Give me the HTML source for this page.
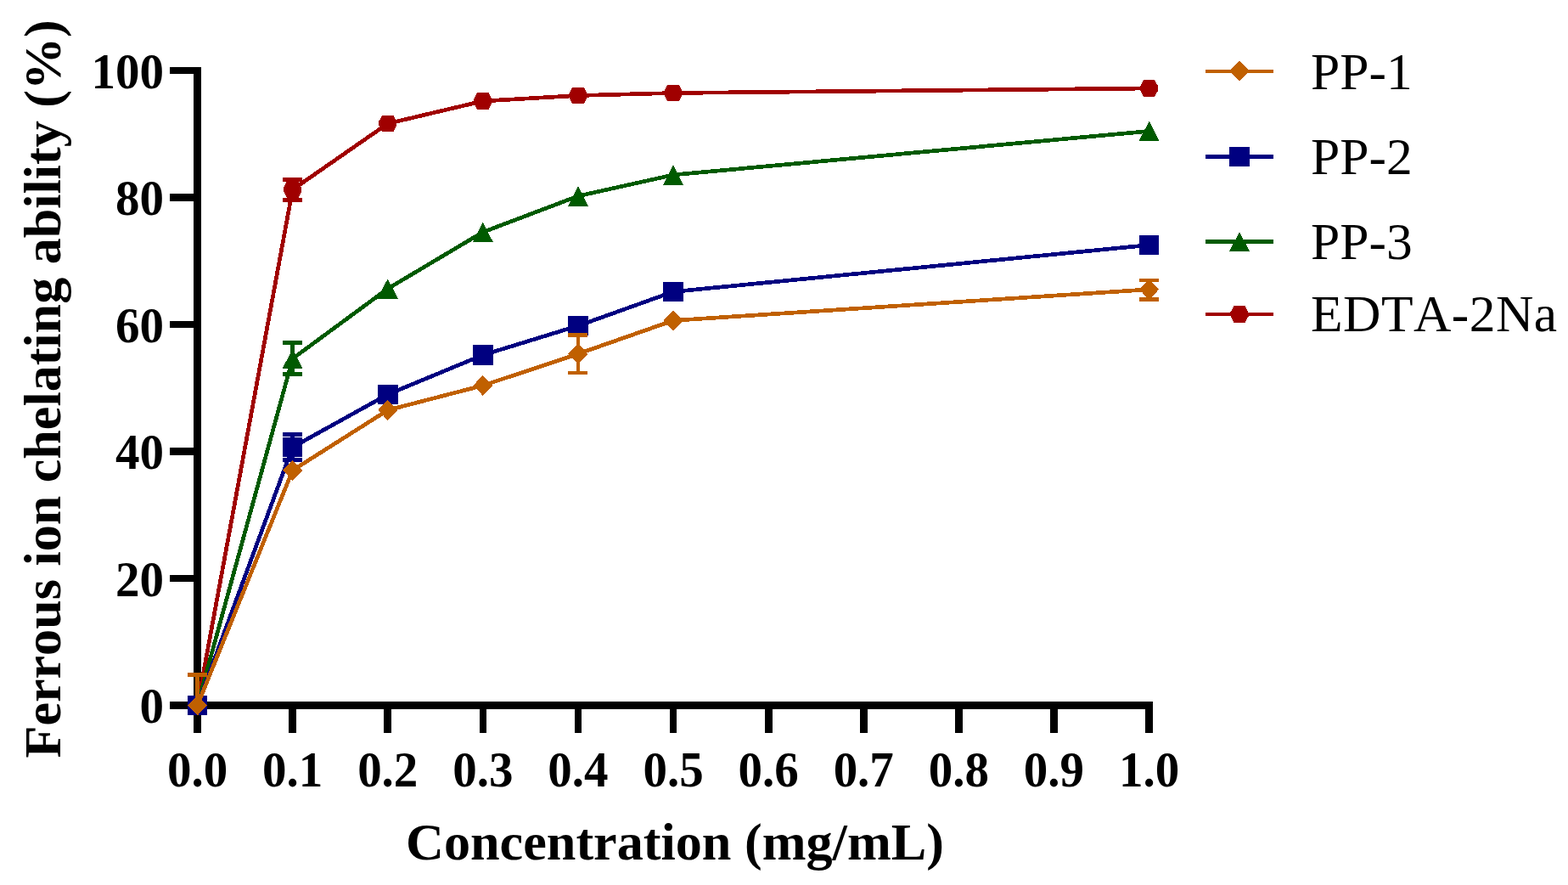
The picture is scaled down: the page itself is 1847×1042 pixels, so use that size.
<!DOCTYPE html>
<html><head><meta charset="utf-8"><title>Ferrous ion chelating ability</title><style>html,body{margin:0;padding:0;background:#fff;}svg{display:block;} text{font-kerning:none;}</style></head><body>
<svg width="1847" height="1042" viewBox="0 0 1847 1042" shape-rendering="crispEdges">
<rect width="1847" height="1042" fill="#fff"/>
<g fill="#000">
<rect x="228.20" y="79" width="8.7" height="783.80"/>
<rect x="200" y="826.20" width="1158.06" height="8.7"/>
<rect x="200" y="676.70" width="32.55" height="8.7"/>
<rect x="200" y="527.20" width="32.55" height="8.7"/>
<rect x="200" y="377.70" width="32.55" height="8.7"/>
<rect x="200" y="228.20" width="32.55" height="8.7"/>
<rect x="200" y="78.70" width="32.55" height="8.7"/>
<rect x="228.20" y="830.55" width="8.7" height="32.25"/>
<rect x="340.30" y="830.55" width="8.7" height="32.25"/>
<rect x="452.40" y="830.55" width="8.7" height="32.25"/>
<rect x="564.50" y="830.55" width="8.7" height="32.25"/>
<rect x="676.60" y="830.55" width="8.7" height="32.25"/>
<rect x="788.70" y="830.55" width="8.7" height="32.25"/>
<rect x="900.80" y="830.55" width="8.7" height="32.25"/>
<rect x="1012.90" y="830.55" width="8.7" height="32.25"/>
<rect x="1125.00" y="830.55" width="8.7" height="32.25"/>
<rect x="1237.10" y="830.55" width="8.7" height="32.25"/>
<rect x="1349.20" y="830.55" width="8.7" height="32.25"/>
</g>
<polyline points="232.55,830.50 344.65,223.30 456.75,145.50 568.85,119.00 680.95,112.50 793.05,109.50 1353.55,104.00" fill="none" stroke="#A00000" stroke-width="4.7" stroke-linejoin="round"/>
<rect x="342.40" y="211.50" width="4.5" height="24.00" fill="#A00000"/>
<rect x="333.15" y="209.05" width="23" height="4.9" fill="#A00000"/>
<rect x="333.15" y="233.05" width="23" height="4.9" fill="#A00000"/>
<polygon points="222.05,828.00 225.85,820.75 239.25,820.75 243.05,828.00 243.05,833.00 239.25,840.25 225.85,840.25 222.05,833.00" fill="#A00000"/>
<polygon points="334.15,220.80 337.95,213.55 351.35,213.55 355.15,220.80 355.15,225.80 351.35,233.05 337.95,233.05 334.15,225.80" fill="#A00000"/>
<polygon points="446.25,143.00 450.05,135.75 463.45,135.75 467.25,143.00 467.25,148.00 463.45,155.25 450.05,155.25 446.25,148.00" fill="#A00000"/>
<polygon points="558.35,116.50 562.15,109.25 575.55,109.25 579.35,116.50 579.35,121.50 575.55,128.75 562.15,128.75 558.35,121.50" fill="#A00000"/>
<polygon points="670.45,110.00 674.25,102.75 687.65,102.75 691.45,110.00 691.45,115.00 687.65,122.25 674.25,122.25 670.45,115.00" fill="#A00000"/>
<polygon points="782.55,107.00 786.35,99.75 799.75,99.75 803.55,107.00 803.55,112.00 799.75,119.25 786.35,119.25 782.55,112.00" fill="#A00000"/>
<polygon points="1343.05,101.50 1346.85,94.25 1360.25,94.25 1364.05,101.50 1364.05,106.50 1360.25,113.75 1346.85,113.75 1343.05,106.50" fill="#A00000"/>
<polyline points="232.55,830.50 344.65,422.30 456.75,339.90 568.85,273.30 680.95,230.90 793.05,205.90 1353.55,154.40" fill="none" stroke="#005A00" stroke-width="4.7" stroke-linejoin="round"/>
<rect x="342.40" y="403.50" width="4.5" height="37.00" fill="#005A00"/>
<rect x="333.15" y="401.05" width="23" height="4.9" fill="#005A00"/>
<rect x="333.15" y="438.05" width="23" height="4.9" fill="#005A00"/>
<polygon points="232.55,818.70 244.55,842.30 220.55,842.30" fill="#005A00"/>
<polygon points="344.65,410.50 356.65,434.10 332.65,434.10" fill="#005A00"/>
<polygon points="456.75,328.10 468.75,351.70 444.75,351.70" fill="#005A00"/>
<polygon points="568.85,261.50 580.85,285.10 556.85,285.10" fill="#005A00"/>
<polygon points="680.95,219.10 692.95,242.70 668.95,242.70" fill="#005A00"/>
<polygon points="793.05,194.10 805.05,217.70 781.05,217.70" fill="#005A00"/>
<polygon points="1353.55,142.60 1365.55,166.20 1341.55,166.20" fill="#005A00"/>
<polyline points="232.55,830.50 344.65,526.50 456.75,464.40 568.85,418.00 680.95,383.60 793.05,343.50 1353.55,288.50" fill="none" stroke="#000080" stroke-width="4.7" stroke-linejoin="round"/>
<rect x="342.40" y="511.40" width="4.5" height="30.10" fill="#000080"/>
<rect x="333.15" y="508.95" width="23" height="4.9" fill="#000080"/>
<rect x="333.15" y="539.05" width="23" height="4.9" fill="#000080"/>
<rect x="220.80" y="818.75" width="23.50" height="23.50" fill="#000080"/>
<rect x="332.90" y="514.75" width="23.50" height="23.50" fill="#000080"/>
<rect x="445.00" y="452.65" width="23.50" height="23.50" fill="#000080"/>
<rect x="557.10" y="406.25" width="23.50" height="23.50" fill="#000080"/>
<rect x="669.20" y="371.85" width="23.50" height="23.50" fill="#000080"/>
<rect x="781.30" y="331.75" width="23.50" height="23.50" fill="#000080"/>
<rect x="1341.80" y="276.75" width="23.50" height="23.50" fill="#000080"/>
<polyline points="232.55,830.50 344.65,553.80 456.75,482.90 568.85,453.90 680.95,416.60 793.05,377.40 1353.55,340.80" fill="none" stroke="#C06000" stroke-width="4.7" stroke-linejoin="round"/>
<rect x="230.30" y="794.50" width="4.5" height="36.00" fill="#C06000"/>
<rect x="221.05" y="792.05" width="23" height="4.9" fill="#C06000"/>
<rect x="678.70" y="394.50" width="4.5" height="44.50" fill="#C06000"/>
<rect x="669.45" y="392.05" width="23" height="4.9" fill="#C06000"/>
<rect x="669.45" y="436.55" width="23" height="4.9" fill="#C06000"/>
<rect x="1351.30" y="330.00" width="4.5" height="22.50" fill="#C06000"/>
<rect x="1342.05" y="327.55" width="23" height="4.9" fill="#C06000"/>
<rect x="1342.05" y="350.05" width="23" height="4.9" fill="#C06000"/>
<polygon points="232.55,818.50 244.15,830.50 232.55,842.50 220.95,830.50" fill="#C06000"/>
<polygon points="344.65,541.80 356.25,553.80 344.65,565.80 333.05,553.80" fill="#C06000"/>
<polygon points="456.75,470.90 468.35,482.90 456.75,494.90 445.15,482.90" fill="#C06000"/>
<polygon points="568.85,441.90 580.45,453.90 568.85,465.90 557.25,453.90" fill="#C06000"/>
<polygon points="680.95,404.60 692.55,416.60 680.95,428.60 669.35,416.60" fill="#C06000"/>
<polygon points="793.05,365.40 804.65,377.40 793.05,389.40 781.45,377.40" fill="#C06000"/>
<polygon points="1353.55,328.80 1365.15,340.80 1353.55,352.80 1341.95,340.80" fill="#C06000"/>
<text transform="translate(193,851.05) scale(1,1.04)" font-family="Liberation Serif, Times New Roman, serif" font-weight="bold" font-size="57" text-anchor="end">0</text>
<text transform="translate(193,701.55) scale(1,1.04)" font-family="Liberation Serif, Times New Roman, serif" font-weight="bold" font-size="57" text-anchor="end">20</text>
<text transform="translate(193,552.05) scale(1,1.04)" font-family="Liberation Serif, Times New Roman, serif" font-weight="bold" font-size="57" text-anchor="end">40</text>
<text transform="translate(193,402.55) scale(1,1.04)" font-family="Liberation Serif, Times New Roman, serif" font-weight="bold" font-size="57" text-anchor="end">60</text>
<text transform="translate(193,253.05) scale(1,1.04)" font-family="Liberation Serif, Times New Roman, serif" font-weight="bold" font-size="57" text-anchor="end">80</text>
<text transform="translate(193,103.55) scale(1,1.04)" font-family="Liberation Serif, Times New Roman, serif" font-weight="bold" font-size="57" text-anchor="end">100</text>
<text transform="translate(232.55,925.7) scale(1,1.04)" font-family="Liberation Serif, Times New Roman, serif" font-weight="bold" font-size="57" text-anchor="middle">0.0</text>
<text transform="translate(344.65,925.7) scale(1,1.04)" font-family="Liberation Serif, Times New Roman, serif" font-weight="bold" font-size="57" text-anchor="middle">0.1</text>
<text transform="translate(456.75,925.7) scale(1,1.04)" font-family="Liberation Serif, Times New Roman, serif" font-weight="bold" font-size="57" text-anchor="middle">0.2</text>
<text transform="translate(568.85,925.7) scale(1,1.04)" font-family="Liberation Serif, Times New Roman, serif" font-weight="bold" font-size="57" text-anchor="middle">0.3</text>
<text transform="translate(680.95,925.7) scale(1,1.04)" font-family="Liberation Serif, Times New Roman, serif" font-weight="bold" font-size="57" text-anchor="middle">0.4</text>
<text transform="translate(793.05,925.7) scale(1,1.04)" font-family="Liberation Serif, Times New Roman, serif" font-weight="bold" font-size="57" text-anchor="middle">0.5</text>
<text transform="translate(905.15,925.7) scale(1,1.04)" font-family="Liberation Serif, Times New Roman, serif" font-weight="bold" font-size="57" text-anchor="middle">0.6</text>
<text transform="translate(1017.25,925.7) scale(1,1.04)" font-family="Liberation Serif, Times New Roman, serif" font-weight="bold" font-size="57" text-anchor="middle">0.7</text>
<text transform="translate(1129.35,925.7) scale(1,1.04)" font-family="Liberation Serif, Times New Roman, serif" font-weight="bold" font-size="57" text-anchor="middle">0.8</text>
<text transform="translate(1241.45,925.7) scale(1,1.04)" font-family="Liberation Serif, Times New Roman, serif" font-weight="bold" font-size="57" text-anchor="middle">0.9</text>
<text transform="translate(1353.55,925.7) scale(1,1.04)" font-family="Liberation Serif, Times New Roman, serif" font-weight="bold" font-size="57" text-anchor="middle">1.0</text>
<text x="478" y="1012" font-family="Liberation Serif, Times New Roman, serif" font-weight="bold" font-size="62.2">Concentration (mg/mL)</text>
<text transform="translate(70.5,892.5) rotate(-90)" x="0" y="0" font-family="Liberation Serif, Times New Roman, serif" font-weight="bold" font-size="62.1">Ferrous ion chelating ability (%)</text>
<rect x="1420" y="81.50" width="80" height="4.6" fill="#C06000"/>
<polygon points="1460.00,71.80 1472.20,83.80 1460.00,95.80 1447.80,83.80" fill="#C06000"/>
<text x="1544" y="104.9" font-family="Liberation Serif, Times New Roman, serif" font-size="61.5">PP-1</text>
<rect x="1420" y="182.10" width="80" height="4.6" fill="#000080"/>
<rect x="1448.25" y="172.65" width="23.50" height="23.50" fill="#000080"/>
<text x="1544" y="204.7" font-family="Liberation Serif, Times New Roman, serif" font-size="61.5">PP-2</text>
<rect x="1420" y="282.20" width="80" height="4.6" fill="#005A00"/>
<polygon points="1460.00,273.00 1472.00,296.00 1448.00,296.00" fill="#005A00"/>
<text x="1544" y="305.1" font-family="Liberation Serif, Times New Roman, serif" font-size="61.5">PP-3</text>
<rect x="1420" y="367.70" width="80" height="4.6" fill="#A00000"/>
<polygon points="1449.50,367.50 1453.30,360.25 1466.70,360.25 1470.50,367.50 1470.50,372.50 1466.70,379.75 1453.30,379.75 1449.50,372.50" fill="#A00000"/>
<text x="1544" y="389.6" font-family="Liberation Serif, Times New Roman, serif" font-size="61.5" letter-spacing="0.45">EDTA-2Na</text>
</svg>
</body></html>
